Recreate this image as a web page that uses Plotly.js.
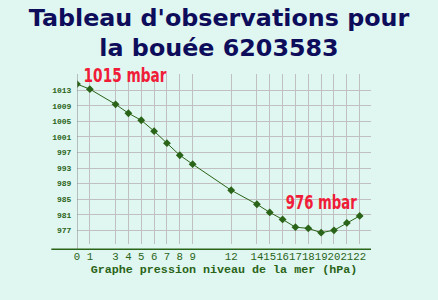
<!DOCTYPE html>
<html><head><meta charset="utf-8">
<script src="https://cdn.plot.ly/plotly-3.0.1.min.js"></script>
<style>html,body{margin:0;padding:0;background:#e0f6f0;}</style>
</head><body><div id="chart" style="width:438px;height:300px;"></div>
<script>
const hours = [0, 1, 3, 4, 5, 6, 7, 8, 9, 12, 14, 15, 16, 17, 18, 19, 20, 21, 22];
const pressure = [1014.6, 1013.3, 1009.4, 1007.1, 1005.3, 1002.5, 999.4, 996.3, 994.0, 987.3, 983.7, 981.6, 979.8, 977.8, 977.5, 976.4, 977.0, 978.9, 980.7];
const yTicks = [977, 981, 985, 989, 993, 997, 1001, 1005, 1009, 1013];
const titleText = "Tableau d'observations pour<br>la bouée 6203583";
const xTitle = "Graphe pression niveau de la mer (hPa)";

const maxP = Math.max(...pressure), minP = Math.min(...pressure);
const iMax = pressure.indexOf(maxP), iMin = pressure.indexOf(minP);

const green = '#2a6418';
const labelFont = {family: 'DejaVu Sans', size: 19.5, color: '#f01c38', weight: 'bold'};
const labelWidths = [83, 71];   // condensed widths of the two red labels

const trace = {
  x: hours, y: pressure, type: 'scatter', mode: 'lines+markers',
  line: {color: green, width: 1},
  marker: {symbol: 'diamond', size: 6, color: green},
  hoverinfo: 'skip'
};

const layout = {
  width: 438, height: 300,
  paper_bgcolor: '#e0f6f0', plot_bgcolor: '#e0f6f0',
  margin: {l: 76.7, r: 67, t: 74, b: 56, pad: 0},
  showlegend: false,
  title: {text: titleText, font: {family: 'DejaVu Sans', size: 23.8, color: '#0d0d5c', weight: 'bold'},
          x: 0.5, xanchor: 'center', yref: 'container', y: 0.915, yanchor: 'top'},
  xaxis: {
    range: [0, 22.88], tickvals: hours, ticktext: hours.map(String), tickangle: 0,
    showgrid: true, gridcolor: '#c0c0c0', gridwidth: 1,
    zeroline: false, showline: false,
    ticks: 'outside', ticklen: 2, tickcolor: 'rgba(0,0,0,0)',
    tickfont: {family: 'Liberation Mono', size: 10.7, color: green},
    title: {text: xTitle, font: {family: 'Liberation Mono', size: 11.7, color: green, weight: 'bold'}, standoff: 0},
    fixedrange: true
  },
  yaxis: {
    range: [973.48, 1017.19], tickvals: yTicks, ticktext: yTicks.map(String),
    showgrid: true, gridcolor: '#c0c0c0', gridwidth: 1,
    zeroline: false, showline: false,
    ticks: 'outside', ticklen: 3, tickcolor: 'rgba(0,0,0,0)',
    tickfont: {family: 'Liberation Mono', size: 8, color: green, weight: 'bold'},
    fixedrange: true
  },
  shapes: [
    {type: 'line', xref: 'x', yref: 'paper', x0: 0, x1: 0, y0: -0.031, y1: 1, line: {color: '#888888', width: 1}},
    {type: 'line', xref: 'paper', yref: 'paper', x0: -0.0873, x1: 1, y0: -0.031, y1: -0.031, line: {color: green, width: 1.5}}
  ],
  annotations: [
    {x: hours[iMax], y: maxP, xref: 'x', yref: 'y', text: Math.round(maxP) + ' mbar', showarrow: false,
     xanchor: 'center', yanchor: 'middle', xshift: 6.6 + labelWidths[0] / 2, yshift: 9,
     font: labelFont},
    {x: hours[iMin], y: minP, xref: 'x', yref: 'y', text: Math.round(minP) + ' mbar', showarrow: false,
     xanchor: 'center', yanchor: 'middle', yshift: 30,
     font: labelFont}
  ]
};

Plotly.newPlot('chart', [trace], layout, {staticPlot: true, displayModeBar: false}).then(function(gd){
  gd.querySelectorAll('.annotation-text').forEach(function(t, i){
    t.setAttribute('textLength', labelWidths[i]);
    t.setAttribute('lengthAdjust', 'spacingAndGlyphs');
  });
});
</script></body></html>
